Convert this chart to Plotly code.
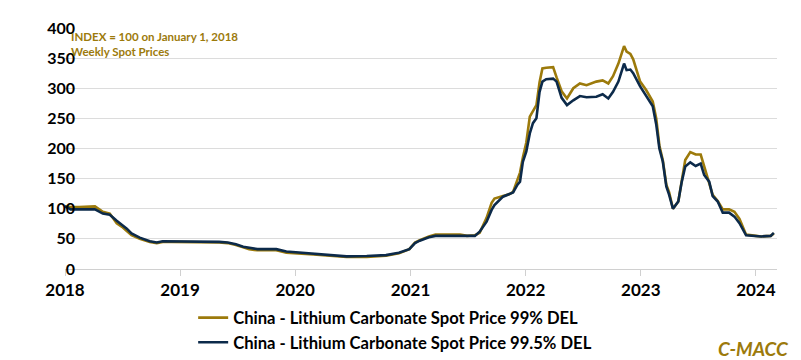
import plotly.graph_objects as go

dates = [
    "2018-01-01", "2018-01-19", "2018-02-15", "2018-03-15", "2018-04-06", "2018-05-01", "2018-05-23",
    "2018-06-14", "2018-07-01", "2018-07-16", "2018-07-31", "2018-08-26", "2018-09-27", "2018-10-19",
    "2018-11-07", "2018-12-05", "2019-01-01", "2019-02-01", "2019-03-01", "2019-04-01", "2019-05-05",
    "2019-06-01", "2019-06-27", "2019-07-20", "2019-08-08", "2019-09-03", "2019-10-05", "2019-11-02",
    "2019-12-04", "2020-01-16", "2020-02-28", "2020-04-20", "2020-06-12", "2020-08-15", "2020-10-15",
    "2020-11-25", "2020-12-28", "2021-01-15", "2021-01-30", "2021-02-28", "2021-03-21", "2021-05-05",
    "2021-06-07", "2021-06-29", "2021-07-24", "2021-08-08", "2021-08-30", "2021-09-15", "2021-09-24",
    "2021-10-21", "2021-11-10", "2021-11-22", "2021-12-06", "2021-12-14", "2021-12-23", "2022-01-03",
    "2022-01-14", "2022-01-24", "2022-02-04", "2022-02-14", "2022-02-23", "2022-03-07", "2022-03-29",
    "2022-04-09", "2022-04-25", "2022-05-12", "2022-06-01", "2022-06-22", "2022-07-13", "2022-08-13",
    "2022-09-02", "2022-09-20", "2022-10-05", "2022-10-22", "2022-11-09", "2022-11-17", "2022-11-29",
    "2022-12-08", "2022-12-30", "2023-01-18", "2023-02-08", "2023-02-19", "2023-03-01", "2023-03-12",
    "2023-03-23", "2023-04-01", "2023-04-13", "2023-04-30", "2023-05-11", "2023-05-22", "2023-06-07",
    "2023-06-24", "2023-07-10", "2023-07-21", "2023-08-06", "2023-08-17", "2023-09-02", "2023-09-18",
    "2023-10-08", "2023-10-25", "2023-11-10", "2023-12-01", "2024-01-01", "2024-01-18", "2024-02-17",
    "2024-02-27",
]

spot_99 = [
    104, 103, 103, 103, 104, 95, 92,
    76, 70, 63, 56, 50, 45, 43,
    45, 45, 45, 45, 45, 44, 44,
    43, 40, 36, 33, 31, 31, 31,
    27, 25, 24, 22, 20, 20, 22,
    26, 33, 44, 48, 54, 57, 57,
    57, 55, 56, 60, 85, 110, 117,
    121, 124, 128, 150, 160, 185, 210,
    253, 262, 272, 310, 333, 334, 335,
    318, 295, 283, 300, 308, 305, 311,
    313, 308, 320, 341, 370, 361, 357,
    348, 311, 297, 278, 250, 205, 180,
    140, 127, 100, 112, 150, 181, 194,
    190, 190, 170, 145, 123, 113, 99,
    99, 95, 83, 57, 55, 54, 55,
    59,
]

spot_995 = [
    104, 99, 99, 99, 99, 92, 90,
    80, 73, 67, 59, 52, 46, 44,
    46, 46, 46, 46, 46, 46, 45,
    44, 41, 37, 35, 33, 33, 33,
    29, 27, 26, 23, 21, 21.5, 23,
    27, 33, 43, 47, 52.6, 55, 55,
    55, 54, 55, 62, 78.5, 98, 106,
    120, 124, 127, 140, 145, 178, 195,
    225, 242, 250, 294, 311, 315, 316,
    311, 284, 272, 280, 287, 285, 286,
    290, 283, 294, 311, 341, 330, 331,
    325, 303, 288, 270, 240, 200, 178,
    137, 123, 100, 112, 145, 170, 177,
    171, 175, 156, 145, 121, 112, 93.5,
    93.5, 87, 76, 56, 55, 54, 55,
    60,
]

year_ticks = ["2018-01-01", "2019-01-01", "2020-01-01", "2021-01-01", "2022-01-01", "2023-01-01", "2024-01-01"]
year_labels = ["2018", "2019", "2020", "2021", "2022", "2023", "2024"]
y_ticks = [0, 50, 100, 150, 200, 250, 300, 350, 400]

GOLD = "#9C7A0B"
NAVY = "#0C2A4A"
FONT = "Lato"

fig = go.Figure()
fig.add_trace(go.Scatter(x=dates, y=spot_99, mode="lines", name="China - Lithium Carbonate Spot Price 99% DEL",
                         line=dict(color=GOLD, width=2.6)))
fig.add_trace(go.Scatter(x=dates, y=spot_995, mode="lines", name="China - Lithium Carbonate Spot Price 99.5% DEL",
                         line=dict(color=NAVY, width=2.6)))

fig.update_layout(
    width=801, height=360,
    margin=dict(l=57, r=32, t=20, b=99, autoexpand=False),
    plot_bgcolor="white", paper_bgcolor="white",
    font=dict(family=FONT, color="black"),
    showlegend=True,
    legend=dict(x=0.18, y=-0.13, xanchor="left", yanchor="top", orientation="v",
                font=dict(family=FONT, size=16.6, color="black", weight="bold"),
                tracegroupgap=0, bgcolor="rgba(0,0,0,0)"),
    xaxis=dict(range=["2018-01-01", "2024-03-08"], tickvals=year_ticks, ticktext=year_labels,
               showgrid=False, showline=True, linecolor="#d0d0d0", linewidth=1,
               ticks="outside", ticklen=6, tickcolor="#d0d0d0",
               tickfont=dict(family=FONT, size=17, color="black", weight="bold")),
    yaxis=dict(range=[0, 400], tickvals=y_ticks, showgrid=True, gridcolor="#dcdcdc", gridwidth=1,
               zeroline=False, showline=False, ticks="", ticklabelstandoff=-11,
               tickfont=dict(family=FONT, size=16, color="black", weight="bold")),
    annotations=[
        dict(text="INDEX = 100 on January 1, 2018<br>Weekly Spot Prices", xref="paper", yref="paper",
             x=0.006, y=1.0, xanchor="left", yanchor="top", showarrow=False, align="left",
             font=dict(family=FONT, size=11.5, color=GOLD, weight="bold")),
        dict(text="<i>C-MACC</i>", xref="paper", yref="paper", x=0.915, y=-0.33, xanchor="left",
             yanchor="middle", showarrow=False,
             font=dict(family=FONT, size=19, color=GOLD, weight="bold")),
    ],
)

fig.write_html("out.html")
